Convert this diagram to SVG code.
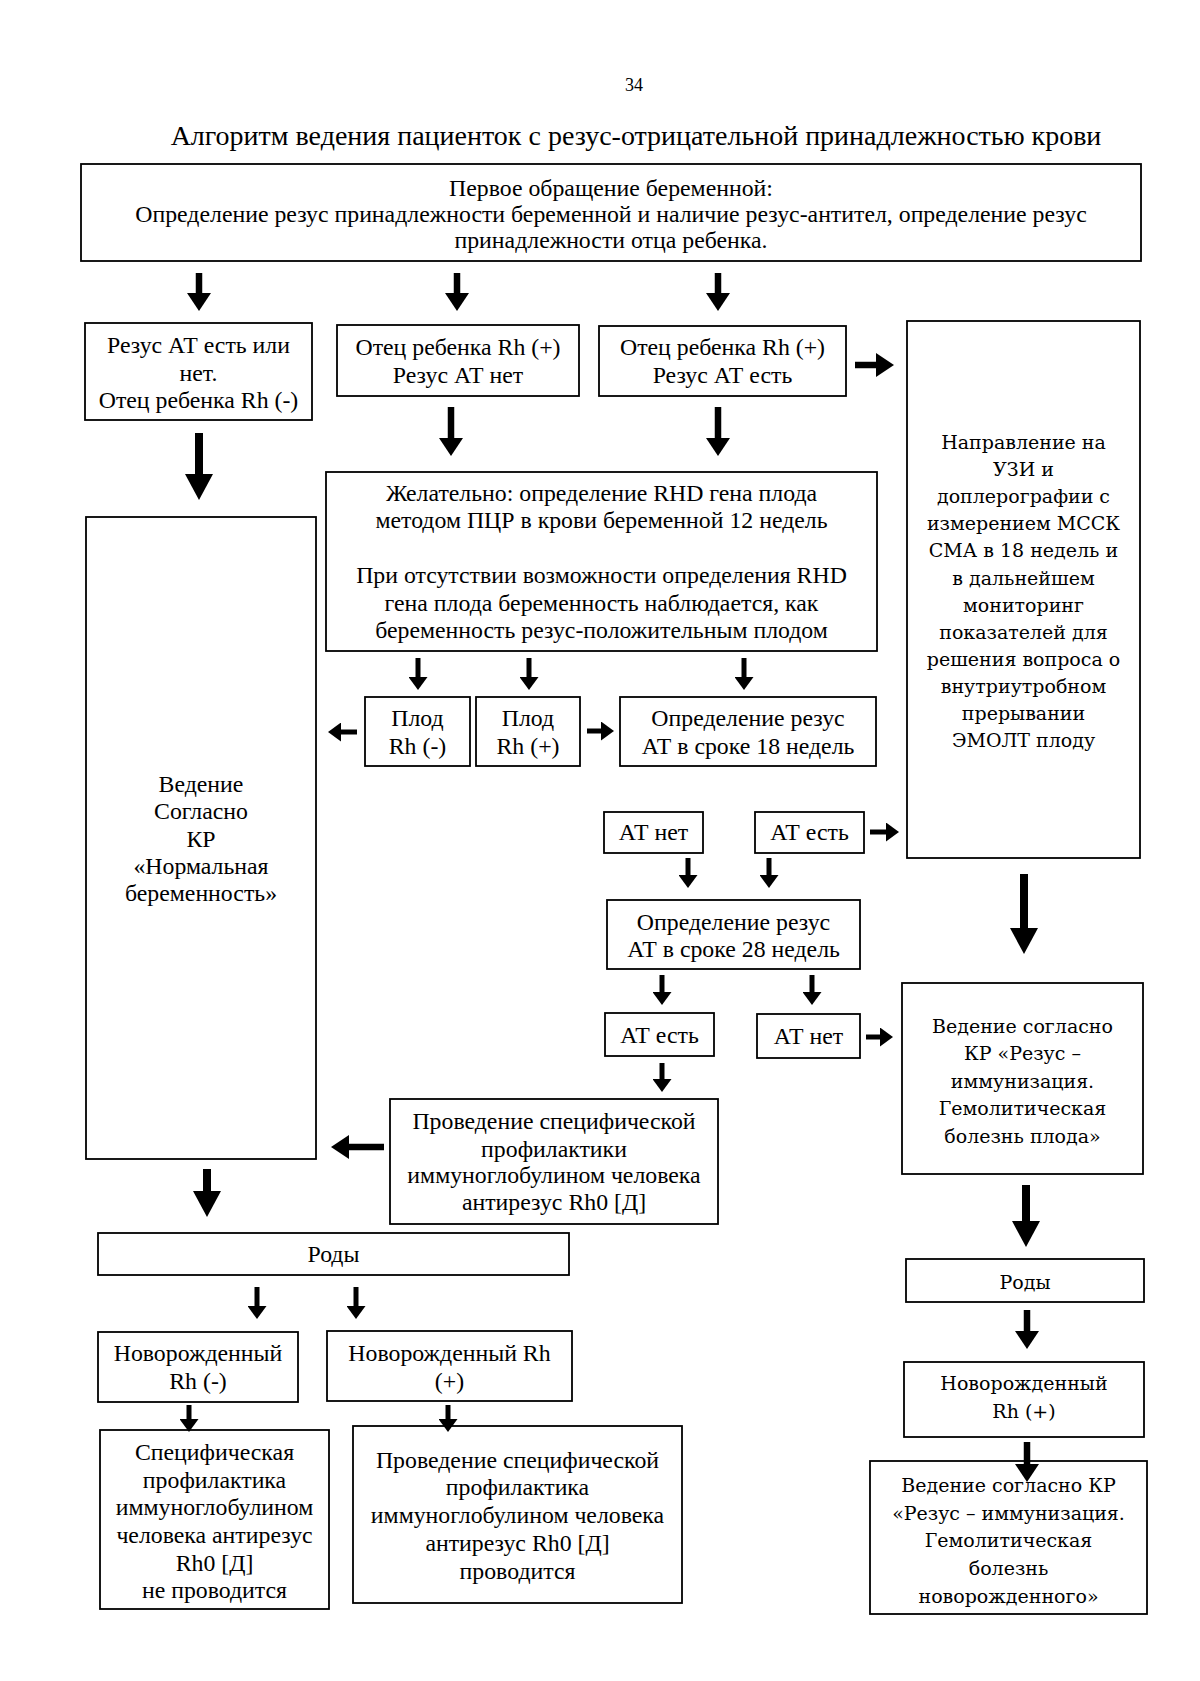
<svg xmlns="http://www.w3.org/2000/svg" width="1200" height="1681" viewBox="0 0 1200 1681">
<style>
.box{fill:#fff;stroke:#000;stroke-width:1.8}
.t{font-family:"Liberation Serif","Times New Roman",serif;font-size:23.8px;fill:#000;text-anchor:middle}
.w{font-family:"DejaVu Serif","Liberation Serif",serif;font-size:19px;fill:#000;text-anchor:middle}
.big{stroke:#000;stroke-width:8;marker-end:url(#mBig)}
.med{stroke:#000;stroke-width:6.5;marker-end:url(#mMed)}
.sm{stroke:#000;stroke-width:5;marker-end:url(#mSm)}
</style>
<defs>
<marker id="mBig" markerUnits="userSpaceOnUse" viewBox="0 0 26 28" markerWidth="26" markerHeight="28" refX="0" refY="14" orient="auto"><path d="M0,0 L26,14 L0,28 Z" fill="#000"/></marker>
<marker id="mMed" markerUnits="userSpaceOnUse" viewBox="0 0 18 24" markerWidth="18" markerHeight="24" refX="0" refY="12" orient="auto"><path d="M0,0 L18,12 L0,24 Z" fill="#000"/></marker>
<marker id="mSm" markerUnits="userSpaceOnUse" viewBox="0 0 13 19" markerWidth="13" markerHeight="19" refX="0" refY="9.5" orient="auto"><path d="M0,0 L13,9.5 L0,19 Z" fill="#000"/></marker>
</defs>
<rect width="1200" height="1681" fill="#fff"/>
<text x="634" y="91" style="font-family:'Liberation Serif',serif;font-size:18px;text-anchor:middle">34</text>
<text x="636" y="145" style="font-family:'Liberation Serif',serif;font-size:28px;text-anchor:middle">Алгоритм ведения пациенток с резус-отрицательной принадлежностью крови</text>

<g id="n-first">
<rect class="box" x="81" y="164" width="1060" height="97"/>
<text class="t" x="611" y="196">Первое обращение беременной:</text>
<text class="t" x="611" y="222">Определение резус принадлежности беременной и наличие резус-антител, определение резус</text>
<text class="t" x="611" y="248">принадлежности отца ребенка.</text>
</g>
<g id="n-a">
<rect class="box" x="85" y="323" width="227" height="97"/>
<text class="t" x="198.5" y="353">Резус АТ есть или</text>
<text class="t" x="198.5" y="381">нет.</text>
<text class="t" x="198.5" y="408">Отец ребенка Rh (-)</text>
</g>
<g id="n-b">
<rect class="box" x="337" y="325" width="242" height="71"/>
<text class="t" x="458" y="355">Отец ребенка Rh (+)</text>
<text class="t" x="458" y="383">Резус АТ нет</text>
</g>
<g id="n-c">
<rect class="box" x="599" y="326" width="247" height="70"/>
<text class="t" x="722.5" y="355">Отец ребенка Rh (+)</text>
<text class="t" x="722.5" y="383">Резус АТ есть</text>
</g>
<g id="n-uzi">
<rect class="box" x="907" y="321" width="233" height="537"/>
<text class="w" x="1023.5" y="449">Направление на</text>
<text class="w" x="1023.5" y="476">УЗИ и</text>
<text class="w" x="1023.5" y="503">доплерографии с</text>
<text class="w" x="1023.5" y="530">измерением МССК</text>
<text class="w" x="1023.5" y="557">СМА в 18 недель и</text>
<text class="w" x="1023.5" y="585">в дальнейшем</text>
<text class="w" x="1023.5" y="612">мониторинг</text>
<text class="w" x="1023.5" y="639">показателей для</text>
<text class="w" x="1023.5" y="666">решения вопроса о</text>
<text class="w" x="1023.5" y="693">внутриутробном</text>
<text class="w" x="1023.5" y="720">прерывании</text>
<text class="w" x="1023.5" y="747">ЭМОЛТ плоду</text>
</g>
<g id="n-normal">
<rect class="box" x="86" y="517" width="230" height="642"/>
<text class="t" x="201" y="792">Ведение</text>
<text class="t" x="201" y="819">Согласно</text>
<text class="t" x="201" y="847">КР</text>
<text class="t" x="201" y="874">«Нормальная</text>
<text class="t" x="201" y="901">беременность»</text>
</g>
<g id="n-rhd">
<rect class="box" x="326" y="472" width="551" height="179"/>
<text class="t" x="601.5" y="501">Желательно: определение RHD гена плода</text>
<text class="t" x="601.5" y="528">методом ПЦР в крови беременной 12 недель</text>
<text class="t" x="601.5" y="583">При отсутствии возможности определения RHD</text>
<text class="t" x="601.5" y="611">гена плода беременность наблюдается, как</text>
<text class="t" x="601.5" y="638">беременность резус-положительным плодом</text>
</g>
<g id="n-fneg">
<rect class="box" x="365" y="697" width="105" height="69"/>
<text class="t" x="417.5" y="726">Плод</text>
<text class="t" x="417.5" y="754">Rh (-)</text>
</g>
<g id="n-fpos">
<rect class="box" x="476" y="697" width="104" height="69"/>
<text class="t" x="528" y="726">Плод</text>
<text class="t" x="528" y="754">Rh (+)</text>
</g>
<g id="n-w18">
<rect class="box" x="620" y="697" width="256" height="69"/>
<text class="t" x="748" y="726">Определение резус</text>
<text class="t" x="748" y="754">АТ в сроке 18 недель</text>
</g>
<g id="n-atno1">
<rect class="box" x="604" y="812" width="99" height="41"/>
<text class="t" x="653.5" y="840">АТ нет</text>
</g>
<g id="n-atyes1">
<rect class="box" x="755" y="812" width="109" height="41"/>
<text class="t" x="809.5" y="840">АТ есть</text>
</g>
<g id="n-w28">
<rect class="box" x="607" y="900" width="253" height="69"/>
<text class="t" x="733.5" y="930">Определение резус</text>
<text class="t" x="733.5" y="957">АТ в сроке 28 недель</text>
</g>
<g id="n-atyes2">
<rect class="box" x="605" y="1013" width="109" height="43"/>
<text class="t" x="659.5" y="1043">АТ есть</text>
</g>
<g id="n-atno2">
<rect class="box" x="757" y="1014" width="103" height="44"/>
<text class="t" x="808.5" y="1044">АТ нет</text>
</g>
<g id="n-immun">
<rect class="box" x="902" y="983" width="241" height="191"/>
<text class="w" x="1022.5" y="1033">Ведение согласно</text>
<text class="w" x="1022.5" y="1060">КР «Резус –</text>
<text class="w" x="1022.5" y="1088">иммунизация.</text>
<text class="w" x="1022.5" y="1115">Гемолитическая</text>
<text class="w" x="1022.5" y="1143">болезнь плода»</text>
</g>
<g id="n-prophyl">
<rect class="box" x="390" y="1099" width="328" height="125"/>
<text class="t" x="554" y="1129">Проведение специфической</text>
<text class="t" x="554" y="1157">профилактики</text>
<text class="t" x="554" y="1183">иммуноглобулином человека</text>
<text class="t" x="554" y="1210">антирезус Rh0 [Д]</text>
</g>
<g id="n-birth1">
<rect class="box" x="98" y="1233" width="471" height="42"/>
<text class="t" x="333.5" y="1262">Роды</text>
</g>
<g id="n-nbneg">
<rect class="box" x="98" y="1332" width="200" height="70"/>
<text class="t" x="198" y="1361">Новорожденный</text>
<text class="t" x="198" y="1389">Rh (-)</text>
</g>
<g id="n-nbpos">
<rect class="box" x="327" y="1331" width="245" height="70"/>
<text class="t" x="449.5" y="1361">Новорожденный Rh</text>
<text class="t" x="449.5" y="1389">(+)</text>
</g>
<g id="n-noprophyl">
<rect class="box" x="100" y="1430" width="229" height="179"/>
<text class="t" x="214.5" y="1460">Специфическая</text>
<text class="t" x="214.5" y="1488">профилактика</text>
<text class="t" x="214.5" y="1515">иммуноглобулином</text>
<text class="t" x="214.5" y="1543">человека антирезус</text>
<text class="t" x="214.5" y="1571">Rh0 [Д]</text>
<text class="t" x="214.5" y="1598">не проводится</text>
</g>
<g id="n-doprophyl">
<rect class="box" x="353" y="1426" width="329" height="177"/>
<text class="t" x="517.5" y="1468">Проведение специфической</text>
<text class="t" x="517.5" y="1495">профилактика</text>
<text class="t" x="517.5" y="1523">иммуноглобулином человека</text>
<text class="t" x="517.5" y="1551">антирезус Rh0 [Д]</text>
<text class="t" x="517.5" y="1579">проводится</text>
</g>
<g id="n-birth2">
<rect class="box" x="906" y="1259" width="238" height="43"/>
<text class="w" x="1025" y="1289">Роды</text>
</g>
<g id="n-nbpos2">
<rect class="box" x="904" y="1362" width="240" height="75"/>
<text class="w" x="1024" y="1390">Новорожденный</text>
<text class="w" x="1024" y="1418">Rh (+)</text>
</g>
<g id="n-hdn">
<rect class="box" x="870" y="1461" width="277" height="153"/>
<text class="w" x="1008.5" y="1492">Ведение согласно КР</text>
<text class="w" x="1008.5" y="1520">«Резус – иммунизация.</text>
<text class="w" x="1008.5" y="1547">Гемолитическая</text>
<text class="w" x="1008.5" y="1575">болезнь</text>
<text class="w" x="1008.5" y="1603">новорожденного»</text>
</g>

<g id="connectors">
<line class="med" x1="199" y1="273" x2="199" y2="293"/>
<line class="med" x1="457" y1="273" x2="457" y2="293"/>
<line class="med" x1="718" y1="273" x2="718" y2="293"/>
<line class="med" x1="855" y1="365" x2="876" y2="365"/>
<line class="big" x1="199" y1="433" x2="199" y2="474"/>
<line class="med" x1="451" y1="407" x2="451" y2="438"/>
<line class="med" x1="718" y1="407" x2="718" y2="438"/>
<line class="sm" x1="418" y1="658" x2="418" y2="677"/>
<line class="sm" x1="529" y1="658" x2="529" y2="677"/>
<line class="sm" x1="744" y1="658" x2="744" y2="677"/>
<line class="sm" x1="357" y1="732" x2="341" y2="732"/>
<line class="sm" x1="587" y1="731" x2="601" y2="731"/>
<line class="sm" x1="870" y1="832" x2="886" y2="832"/>
<line class="sm" x1="688" y1="858" x2="688" y2="875"/>
<line class="sm" x1="769" y1="858" x2="769" y2="875"/>
<line class="sm" x1="662" y1="975" x2="662" y2="992"/>
<line class="sm" x1="812" y1="975" x2="812" y2="992"/>
<line class="sm" x1="866" y1="1037" x2="880" y2="1037"/>
<line class="big" x1="1024" y1="874" x2="1024" y2="928"/>
<line class="sm" x1="662" y1="1063" x2="662" y2="1079"/>
<line class="med" x1="384" y1="1147" x2="349" y2="1147"/>
<line class="big" x1="207" y1="1169" x2="207" y2="1191"/>
<line class="sm" x1="257" y1="1287" x2="257" y2="1306"/>
<line class="sm" x1="356" y1="1287" x2="356" y2="1306"/>
<line class="sm" x1="189" y1="1405" x2="189" y2="1419"/>
<line class="sm" x1="448" y1="1405" x2="448" y2="1419"/>
<line class="big" x1="1026" y1="1185" x2="1026" y2="1221"/>
<line class="med" x1="1027" y1="1310" x2="1027" y2="1331"/>
<line class="med" x1="1027" y1="1442" x2="1027" y2="1464"/>
</g>
</svg>
